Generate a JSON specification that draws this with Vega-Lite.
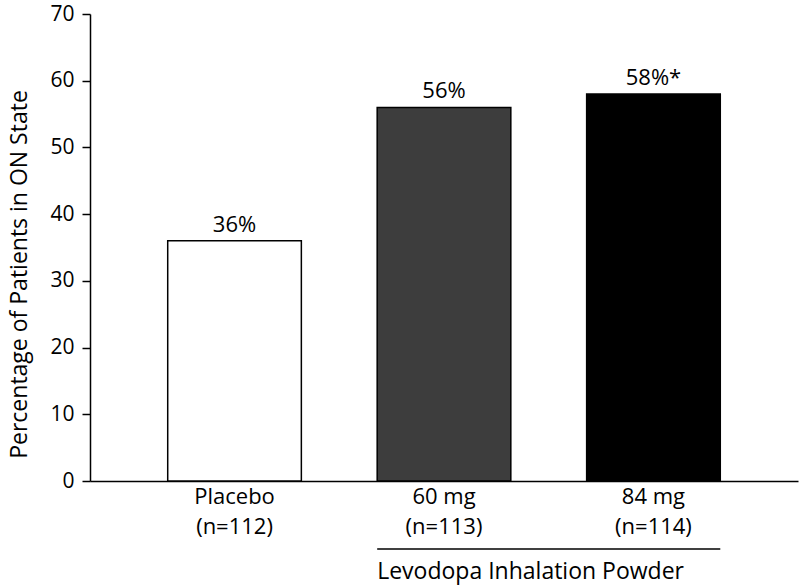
{
  "$schema": "https://vega.github.io/schema/vega-lite/v6.json",
  "width": 708,
  "height": 467,
  "autosize": "none",
  "padding": {"left": 90, "top": 14, "right": 2, "bottom": 105},
  "background": "white",
  "config": {
    "view": {"stroke": null},
    "font": "Open Sans",
    "axis": {"labelFont": "Open Sans", "titleFont": "Open Sans", "labelColor": "black", "titleColor": "black", "domainColor": "black", "tickColor": "black", "grid": false}
  },
  "datasets": {
    "bars": [
      {"group": "Placebo", "label": "Placebo|(n=112)", "pct": 36, "text": "36%"},
      {"group": "60 mg", "label": "60 mg|(n=113)", "pct": 56, "text": "56%"},
      {"group": "84 mg", "label": "84 mg|(n=114)", "pct": 58, "text": "58%*"}
    ],
    "bracket": [
      {"start": "60 mg|(n=113)", "end": "84 mg|(n=114)", "y": -10.2, "ty": -13.7, "title": "Levodopa Inhalation Powder"}
    ]
  },
  "layer": [
    {
      "data": {"name": "bars"},
      "mark": {"type": "bar", "stroke": "black", "strokeWidth": 1.5},
      "encoding": {
        "x": {
          "field": "label", "type": "nominal", "sort": null,
          "scale": {"domain": ["Placebo|(n=112)", "60 mg|(n=113)", "84 mg|(n=114)"], "paddingInner": 0.362, "paddingOuter": 0.371},
          "axis": {"title": null, "labelAngle": 0, "labelExpr": "split(datum.label, '|')", "labelFontSize": 22, "labelLineHeight": 30, "labelPadding": 5, "ticks": false, "domainWidth": 1.5, "labelBaseline": "top"}
        },
        "y": {
          "field": "pct", "type": "quantitative",
          "scale": {"domain": [0, 70], "nice": false},
          "axis": {"title": "Percentage of Patients in ON State", "values": [0, 10, 20, 30, 40, 50, 60, 70], "labelFontSize": 21, "titleFontSize": 23, "titleFontWeight": "normal", "tickSize": 8, "tickWidth": 1.5, "domainWidth": 1.5, "labelPadding": 8, "titlePadding": 18, "titleY": 260, "labelFlush": false}
        },
        "fill": {
          "field": "group", "type": "nominal",
          "scale": {"domain": ["Placebo", "60 mg", "84 mg"], "range": ["#ffffff", "#3d3d3d", "#000000"]},
          "legend": null
        }
      }
    },
    {
      "data": {"name": "bars"},
      "mark": {"type": "text", "baseline": "alphabetic", "dy": -9, "fontSize": 22, "color": "black"},
      "encoding": {
        "x": {"field": "label", "type": "nominal", "sort": null},
        "y": {"field": "pct", "type": "quantitative"},
        "text": {"field": "text"}
      }
    },
    {
      "data": {"name": "bracket"},
      "mark": {"type": "rule", "color": "black", "strokeWidth": 1.5},
      "encoding": {
        "x": {"field": "start", "type": "nominal", "bandPosition": 0},
        "x2": {"field": "end", "bandPosition": 1},
        "y": {"field": "y", "type": "quantitative"}
      }
    },
    {
      "data": {"name": "bracket"},
      "mark": {"type": "text", "align": "left", "baseline": "middle", "fontSize": 23, "color": "black"},
      "encoding": {
        "x": {"field": "start", "type": "nominal", "bandPosition": 0},
        "y": {"field": "ty", "type": "quantitative"},
        "text": {"field": "title"}
      }
    }
  ]
}
